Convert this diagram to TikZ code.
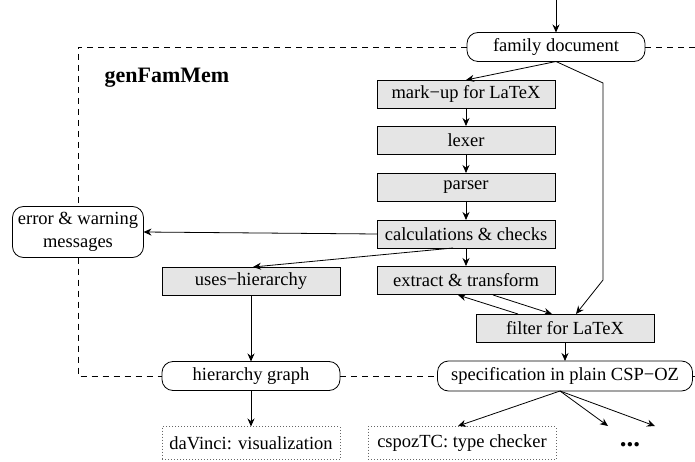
\documentclass[tikz,border=0pt]{standalone}
\usepackage{fontspec}
\setmainfont{Liberation Serif}
\usetikzlibrary{arrows.meta}
\begin{document}
\begin{tikzpicture}[x=1pt,y=-1pt,
  font=\fontsize{18.5}{23}\selectfont,
  every node/.style={inner sep=0pt, outer sep=0pt},
  tool/.style={draw, line width=0.8pt, fill=black!10, minimum width=178pt, minimum height=28pt},
  doc/.style={draw, line width=0.8pt, rounded corners=11pt, minimum height=29pt},
  ext/.style={draw=black!60, line width=0.9pt, dash pattern=on 0.9pt off 2.1pt, minimum width=178pt, minimum height=33pt},
  arr/.style={line width=0.8pt, -{Stealth[length=8pt,width=7pt]}},
  frame/.style={line width=0.8pt, dash pattern=on 6pt off 5pt}]
\useasboundingbox (0,0) rectangle (695,462);

% module label
\node[font=\fontsize{22}{26}\selectfont\bfseries] (title) at (167,78) {genFamMem};

% documents
\node[doc, minimum width=178pt] (fam) at (556,47) {family document};
\node[doc, minimum width=131pt, minimum height=51pt, align=center] (err) at (78,232) {error \& warning\\messages};
\node[doc, minimum width=178pt] (hier) at (251,376) {hierarchy graph};
\node[doc, minimum width=255pt, minimum height=30pt] (spec) at (565,376) {specification in plain CSP−OZ};

% processing steps
\node[tool] (mark) at (466,94) {mark−up for LaTeX};
\node[tool] (lex) at (466,140) {lexer};
\node[tool] (pars) at (466,187) {parser};
\node[tool] (calc) at (466,234) {calculations \& checks};
\node[tool] (extr) at (466,280) {extract \& transform};
\node[tool] (uses) at (251,281) {uses−hierarchy};
\node[tool] (filt) at (565,328) {filter for LaTeX};

% external tools
\node[ext] (davinci) at (251,443) {daVinci: visualization};
\node[ext, minimum width=188pt] (tc) at (462,443) {cspozTC: type checker};
\node[font=\fontsize{27}{30}\selectfont\bfseries] (more) at (630,445) {...};

% helper points
\coordinate (in) at (556,0);
\coordinate (b1) at (603,83);
\coordinate (b2) at (603,280);
\coordinate (fin) at (576,314);
\coordinate (cout) at (453,248);
\coordinate (uin) at (253,267);
\coordinate (eb1) at (458,295);
\coordinate (eb2) at (493,295);
\coordinate (ft1) at (518,314);
\coordinate (ft2) at (552,314);
\coordinate (sout) at (560,391);
\coordinate (tcin) at (458,426);
\coordinate (m1) at (608,426);
\coordinate (m2) at (655,426);
\coordinate (rt) at (695,47);
\coordinate (rb) at (695,376);

% dashed module boundary
\draw[frame] (fam.west) -| (err.north);
\draw[frame] (err.south) |- (hier.west);
\draw[frame] (hier.east) -- (spec.west);
\draw[frame] (spec.east) -- (rb);
\draw[frame] (fam.east) -- (rt);

% data flow
\draw[arr] (in) -- (fam.north);
\draw[arr] (fam.south) -- (mark.north);
\draw[arr] (fam.south) -- (b1) -- (b2) -- (fin);
\draw[arr] (mark) -- (lex);
\draw[arr] (lex) -- (pars);
\draw[arr] (pars) -- (calc);
\draw[arr] (calc) -- (extr);
\draw[arr] (calc.west) -- (err.east);
\draw[arr] (cout) -- (uin);
\draw[arr] (ft1) -- (eb1);
\draw[arr] (eb2) -- (ft2);
\draw[arr] (filt.south) -- (spec.north);
\draw[arr] (uses) -- (hier);
\draw[arr] (hier) -- (davinci);
\draw[arr] (sout) -- (tcin);
\draw[arr] (sout) -- (m1);
\draw[arr] (sout) -- (m2);
\end{tikzpicture}
\end{document}
